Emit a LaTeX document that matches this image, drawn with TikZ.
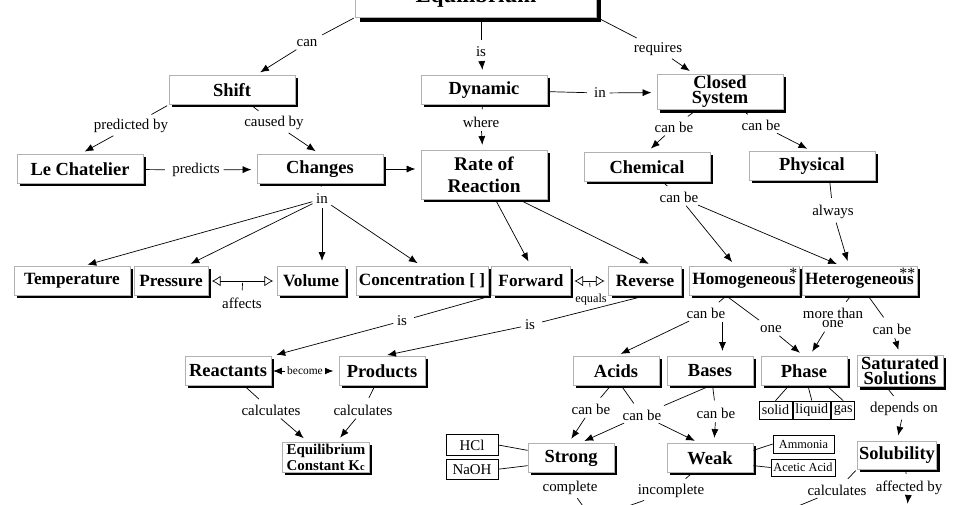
\documentclass[tikz,border=0pt]{standalone}
\usepackage{fontspec}
\setmainfont{Liberation Serif}
\usetikzlibrary{
  positioning, arrows.meta, shadows
}

\begin{document}
\begin{tikzpicture}[x=0.02cm,y=-0.02cm,
    >={Latex[length=5pt,width=4pt]},shorten >=3pt,shorten <=1pt,
    cbox/.style={draw=gray!60,fill=white,inner sep=1pt,align=center,
      minimum height=0.58cm,font=\fontsize{10.5}{10.5}\selectfont\bfseries},
    concept/.style={cbox,drop shadow={shadow xshift=1.7pt,shadow yshift=-1.7pt,
      fill=black,opacity=1}},
    rowbox/.style={concept,font=\fontsize{9.8}{9.8}\selectfont\bfseries},
    link/.style={fill=white,inner sep=1pt,font=\fontsize{8.5}{8.5}\selectfont},
    sample/.style={draw,fill=white,inner sep=1pt,font=\fontsize{8}{8}\selectfont,
      minimum height=0.36cm},
    tie/.style={-,shorten >=0pt,shorten <=0pt},
    hollow/.style={{Latex[open,length=5pt,width=6pt]}-{Latex[open,length=5pt,width=6pt]},
      shorten >=2pt,shorten <=2pt},
    star/.style={label={[anchor=north east,inner sep=1pt,
      font=\fontsize{9}{9}\selectfont]north east:#1}}
  ]
  \useasboundingbox (0,0) rectangle (960,504);
  \clip (0,0) rectangle (960,504);

  % concepts
  \node[cbox,minimum width=4.82cm,minimum height=0.78cm,
    font=\fontsize{13}{13}\selectfont\bfseries,
    drop shadow={shadow xshift=2.8pt,shadow yshift=-2.8pt,fill=black,opacity=1}]
    (equil) at (476,-2.5) {Equilibrium};
  \node[concept,minimum width=2.52cm] (shift)   at (232,90)  {Shift};
  \node[concept,minimum width=2.52cm] (dynamic) at (484,90)  {Dynamic};
  \node[concept,minimum width=2.52cm,minimum height=0.68cm,
    font=\fontsize{10.5}{8.5}\selectfont\bfseries] (closed) at (720,92) {Closed\\System};
  \node[concept,minimum width=2.52cm] (lechat)  at (80,169)  {Le Chatelier};
  \node[concept,minimum width=2.52cm] (changes) at (320,169) {Changes};
  \node[concept,minimum width=2.52cm,minimum height=0.98cm,
    font=\fontsize{11}{12.5}\selectfont\bfseries] (rate) at (484,175) {Rate of\\Reaction};
  \node[concept,minimum width=2.52cm] (chemical) at (647,167) {Chemical};
  \node[concept,minimum width=2.52cm] (physical) at (812,166) {Physical};

  \node[rowbox,minimum width=2.32cm] (temp)    at (72,281)    {Temperature};
  \node[rowbox,minimum width=1.48cm] (pres)    at (171,281)   {Pressure};
  \node[rowbox,minimum width=1.36cm] (vol)     at (311,281)   {Volume};
  \node[rowbox,minimum width=2.64cm] (conc)    at (422,281)   {Concentration [ ]};
  \node[rowbox,minimum width=1.58cm] (fwd)     at (531,281)   {Forward};
  \node[rowbox,minimum width=1.46cm] (rev)     at (645,281)   {Reverse};
  \node[rowbox,minimum width=2.2cm,star=*]   (homog)   at (744,281)   {Homogeneous};
  \node[rowbox,minimum width=2.3cm,star=**]  (heterog) at (859.5,281) {Heterogeneous};

  \node[concept,minimum width=1.72cm] (react)  at (228,371) {Reactants};
  \node[concept,minimum width=1.72cm] (prod)   at (382,371) {Products};
  \node[concept,minimum width=1.72cm] (acids)  at (616,371) {Acids};
  \node[concept,minimum width=1.72cm] (bases)  at (710,371) {Bases};
  \node[concept,minimum width=1.72cm] (phase)  at (804,371) {Phase};
  \node[concept,minimum width=1.72cm,
    font=\fontsize{10.5}{8.5}\selectfont\bfseries] (sat) at (900,371) {Saturated\\Solutions};
  \node[concept,minimum width=1.74cm,minimum height=0.6cm,align=left,
    font=\fontsize{8.5}{9}\selectfont\bfseries] (kc) at (326,457)
    {Equilibrium\\Constant K{\fontsize{6}{6}\selectfont c}};
  \node[concept,minimum width=1.72cm] (strong) at (571,458) {Strong};
  \node[concept,minimum width=1.72cm] (weak)   at (710,458) {Weak};
  \node[concept,minimum width=1.52cm,minimum height=0.56cm] (solub) at (897,455) {Solubility};

  % examples
  \node[sample,minimum width=1.04cm,minimum height=0.42cm,font=\fontsize{8.5}{8.5}\selectfont]
    (hcl) at (472,445) {HCl};
  \node[sample,minimum width=1.04cm,minimum height=0.4cm,font=\fontsize{8.5}{8.5}\selectfont]
    (naoh) [below=0.06cm of hcl] {NaOH};
  \node[sample,minimum width=0.66cm] (solid) at (775.5,410) {solid};
  \node[sample,minimum width=0.68cm] (liquid) [right=0.02cm of solid] {liquid};
  \node[sample,minimum width=0.46cm] (gas) [right=0.02cm of liquid] {gas};
  \node[sample,minimum width=1.22cm,font=\fontsize{7}{7}\selectfont,
    drop shadow={shadow xshift=0.6pt,shadow yshift=-0.6pt,fill=black,opacity=1}]
    (ammonia) at (803.5,444) {Ammonia};
  \node[sample,minimum width=1.28cm,minimum height=0.34cm,font=\fontsize{7}{7}\selectfont,
    drop shadow={shadow xshift=0.6pt,shadow yshift=-0.6pt,fill=black,opacity=1}]
    (acetic) at (803,467.5) {Acetic Acid};

  % linking words
  \node[link] (w_can)       at (307,43)  {can};
  \node[link] (w_is)        at (481,52)  {is};
  \node[link] (w_requires)  at (658,49)  {requires};
  \node[link] (w_predby)    at (131,126) {predicted by};
  \node[link] (w_causedby)  at (274,123) {caused by};
  \node[link] (w_predicts)  at (196,170) {predicts};
  \node[link] (w_in_dyn)    at (600,93)  {in};
  \node[link] (w_where)     at (481,122) {where};
  \node[link] (w_canbe_chem) at (674,127) {can be};
  \node[link] (w_canbe_phys) at (761,125) {can be};
  \node[link] (w_canbe_mix) at (679,197) {can be};
  \node[link] (w_always)    at (833,212) {always};
  \node[link] (w_in_chg)    at (322,199) {in};
  \node[link] (w_affects)   at (242,303) {affects};
  \node[link,font=\fontsize{7}{7}\selectfont] (w_equals) at (591,300) {equals};
  \node[link] (w_is_fwd)    at (402,321) {is};
  \node[link] (w_is_rev)    at (530,325) {is};
  \node[link] (w_calc_r)    at (271,410) {calculates};
  \node[link] (w_calc_p)    at (363,410) {calculates};
  \node[link] (w_canbe_hom) at (706,313) {can be};
  \node[link] (w_one)       at (771,329) {one};
  \node[link,align=center,font=\fontsize{8.5}{5.5}\selectfont]
    (w_morethan) at (833,318) {more than\\one};
  \node[link] (w_canbe_sat) at (892,329) {can be};
  \node[link] (w_canbe_a)   at (591,409) {can be};
  \node[link] (w_canbe_ab)  at (642,415) {can be};
  \node[link] (w_canbe_b)   at (716,413) {can be};
  \node[link] (w_depends)   at (904,409) {depends on};
  \node[link] (w_complete)  at (570,488) {complete};
  \node[link] (w_incomplete) at (671,491) {incomplete};
  \node[link] (w_calc_s)    at (837,490) {calculates};
  \node[link] (w_affected)  at (909,488) {affected by};

  \coordinate (off_complete)   at (600,530);
  \coordinate (off_incomplete) at (560,530);
  \coordinate (off_calc)       at (740,530);
  \coordinate (off_affected)   at (907,509);

  % connectors
  \path[->]
    (equil.south west) edge[-] (w_can)
    (w_can) edge (shift)
    (equil.south -| w_is) edge[-] (w_is)
    (w_is) edge (dynamic)
    (equil.south east) edge[-] (w_requires)
    (w_requires) edge (closed)
    (shift.south west) edge[-] (w_predby)
    (w_predby) edge (lechat.north)
    (shift) edge[-] (w_causedby)
    (w_causedby) edge (changes.north)
    (lechat) edge[-] (w_predicts)
    (w_predicts) edge (changes)
    (changes.east) edge (changes.east -| rate.west)
    (dynamic) edge[-] (w_in_dyn)
    (w_in_dyn) edge (closed)
    (dynamic) edge[-] (w_where)
    (w_where) edge (rate)
    (closed) edge[-] (w_canbe_chem)
    (w_canbe_chem) edge (chemical.north)
    (closed) edge[-] (w_canbe_phys)
    (w_canbe_phys) edge (physical.north)
    (chemical) edge[-] (w_canbe_mix)
    (w_canbe_mix) edge (homog.120)
    (w_canbe_mix) edge (heterog.140)
    (physical.-40) edge[-] (w_always)
    (w_always) edge (heterog.125);

  \path[->]
    (changes) edge[-] (w_in_chg)
    (w_in_chg) edge (temp.55)
    (w_in_chg) edge (pres.45)
    (w_in_chg) edge (w_in_chg |- vol.north)
    (w_in_chg) edge (conc.north)
    (rate.-65) edge (fwd.north)
    (rate.-35) edge (rev.60);

  \draw[hollow] (pres.east) -- coordinate (aff_mid) (vol.west);
  \draw (aff_mid) -- (w_affects);
  \draw[hollow] (fwd.east) -- coordinate (eq_mid) (rev.west);
  \draw (eq_mid) -- (w_equals);

  \path[->]
    (fwd.south west) edge[-] (w_is_fwd)
    (w_is_fwd) edge (react.north east)
    (rev.south) edge[-] (w_is_rev)
    (w_is_rev) edge (prod.north)
    (react) edge[-] (w_calc_r)
    (w_calc_r) edge (kc.140)
    (prod) edge[-] (w_calc_p)
    (w_calc_p) edge (kc.55);
  \draw[<->] (react) -- node[link,font=\fontsize{6.5}{6.5}\selectfont] (w_become) {become} (prod);

  \path[->]
    (homog.-140) edge[-] (w_canbe_hom)
    (w_canbe_hom) edge (acids.north)
    (w_canbe_hom.south -| bases.50) edge (bases.50)
    (homog.-140) edge[-] (w_one)
    (w_one) edge (phase.north)
    (heterog.-120) edge[-] (w_morethan)
    (w_morethan) edge (phase.70)
    (heterog.-60) edge[-] (w_canbe_sat)
    (w_canbe_sat) edge (sat.north)
    (acids.-110) edge[-] (w_canbe_a)
    (w_canbe_a) edge (strong.100)
    (acids.-70) edge[-] (w_canbe_ab)
    (bases.south) edge[-] (w_canbe_ab)
    (w_canbe_ab) edge (strong.60)
    (w_canbe_ab) edge (weak.125)
    (bases.-80) edge[-] (w_canbe_b)
    (w_canbe_b) edge (weak.75)
    (phase.-136) edge[tie] (solid.north)
    (phase.-75) edge[tie] (liquid.north)
    (phase.-33) edge[tie] (gas.north)
    (sat.-130) edge[-] (w_depends)
    (w_depends) edge (solub.north)
    (hcl.east) edge[tie] (strong.170)
    (naoh.east) edge[tie] (strong.-170)
    (weak.10) edge[tie] (ammonia.west)
    (weak.-10) edge[tie] (acetic.west);

  \path[->]
    (strong) edge[-] (w_complete)
    (w_complete) edge (off_complete)
    (weak) edge[-] (w_incomplete)
    (w_incomplete) edge (off_incomplete)
    (solub.south west) edge[-] (w_calc_s)
    (w_calc_s) edge (off_calc)
    (solub.-60) edge[-] (w_affected)
    (w_affected) edge (off_affected);
\end{tikzpicture}
\end{document}
